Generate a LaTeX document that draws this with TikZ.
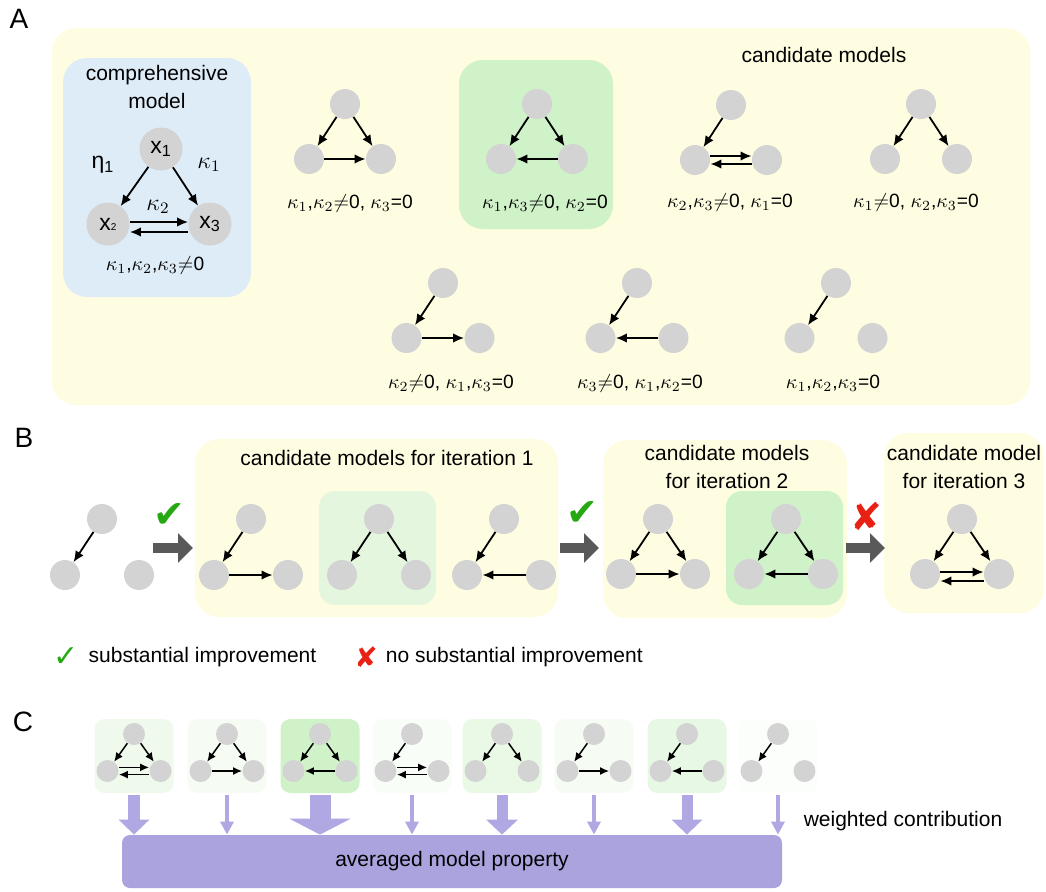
\documentclass[tikz,border=0pt]{standalone}
\usepackage{fontspec}
\setmainfont{Liberation Sans}
\newfontfamily\symfont{DejaVu Sans}
\usepackage{xcolor}
\usetikzlibrary{arrows.meta, positioning}
\definecolor{yellowbg}{RGB}{255,253,225}
\definecolor{bluebg}{RGB}{222,236,247}
\definecolor{greenbg}{RGB}{208,242,200}
\definecolor{palegreen}{RGB}{228,246,222}
\definecolor{nodegray}{RGB}{211,211,211}
\definecolor{arrowgray}{RGB}{89,89,89}
\definecolor{checkgreen}{RGB}{37,168,18}
\definecolor{crossred}{RGB}{232,33,20}
\definecolor{purplebar}{RGB}{170,163,222}
\definecolor{purplearr}{RGB}{176,168,226}
% three nodes of one model: style, name, top x, top y, half spread, drop
\newcommand{\trimodel}[6]{%
  \node[#1] (#2-t) at (#3,#4) {};
  \node[#1] (#2-l) at ({#3-#5},{#4+#6}) {};
  \node[#1] (#2-r) at ({#3+#5},{#4+#6}) {};}
\begin{document}
\begin{tikzpicture}[x=0.5pt, y=-0.5pt,
    font=\fontsize{10.5}{12.6}\selectfont,
    ndbig/.style={circle, fill=nodegray, minimum size=21.5pt, inner sep=0pt,
                  font=\fontsize{11.5}{11.5}\selectfont},
    nd/.style={circle, fill=nodegray, minimum size=15pt, inner sep=0pt},
    ndsmall/.style={circle, fill=nodegray, minimum size=11pt, inner sep=0pt},
    lk/.style={-{Latex[length=5.5pt,width=4.8pt]}, line width=0.9pt},
    lkc/.style={-{Latex[length=4.5pt,width=4pt]}, line width=0.75pt},
    cond/.style={font=\fontsize{9.6}{11}\selectfont},
    title/.style={align=center, font=\fontsize{10.5}{14}\selectfont},
    panel/.style={font=\fontsize{14}{14}\selectfont},
    tick/.style={font=\symfont\fontsize{19}{19}\selectfont},
    bigarr/.style={draw=arrowgray, line width=5pt, -{Triangle[length=7.5pt,width=14.5pt]}},
    wtarr/.style n args={3}{draw=purplearr, line width=#1,
                            -{Triangle[length=#3,width=#2]}, shorten <=1pt},
    cbox/.style={rounded corners=5pt, minimum width=39.5pt, minimum height=37pt, inner sep=0pt},
    bar/.style={fill=purplebar, rounded corners=4pt, minimum width=330pt, minimum height=26.5pt}
  ]
  \useasboundingbox (0,0) rectangle (1046,891);

  % ---------- A ----------
  \node[panel] (pa) at (19,19) {A};
  \fill[yellowbg, rounded corners=12pt] (52,28) rectangle (1030,405);
  \fill[bluebg, rounded corners=12pt] (63,58) rectangle (251,297);
  \fill[greenbg, rounded corners=12pt] (459,60) rectangle (613,229);
  \node[title] (tcomp) at (157,87) {comprehensive\\model};
  \node[title] (tcand) at (824,55) {candidate models};

  \node[ndbig] (x1) at (161,149) {x\textsubscript{1}};
  \node[ndbig] (x2) at (108,224) {x{\fontsize{5}{5}\selectfont 2}};
  \node[ndbig] (x3) at (210,224) {x\textsubscript{3}};
  \draw[lk] (x1) -- (x2);
  \draw[lk] (x1) -- (x3);
  \draw[lk] ([yshift=1pt]x2.east) -- ([yshift=1pt]x3.west);
  \draw[lk] ([yshift=-4pt]x3.west) -- ([yshift=-4pt]x2.east);
  \node[font=\fontsize{11.5}{11.5}\selectfont] (eta) at (103,165) {η\textsubscript{1}};
  \node[font=\fontsize{11.5}{11.5}\selectfont] (k1) at (209,165) {$\kappa_1$};
  \node[font=\fontsize{11.5}{11.5}\selectfont] (k2) at (158,207) {$\kappa_2$};
  \node[cond] (lcomp) at (155,265) {$\kappa_1$,$\kappa_2$,$\kappa_3${$\neq$}0};

  \trimodel{nd}{m1}{345}{104}{36}{55}
  \draw[lk] (m1-t) -- (m1-l);
  \draw[lk] (m1-t) -- (m1-r);
  \draw[lk] (m1-l) -- (m1-r);
  \node[cond] (l1) at (350,203) {$\kappa_1$,$\kappa_2${$\neq$}0, $\kappa_3$=0};

  \trimodel{nd}{m2}{537}{104}{36}{55}
  \draw[lk] (m2-t) -- (m2-l);
  \draw[lk] (m2-t) -- (m2-r);
  \draw[lk] (m2-r) -- (m2-l);
  \node[cond] (l2) at (545,203) {$\kappa_1$,$\kappa_3${$\neq$}0, $\kappa_2$=0};

  \trimodel{nd}{m3}{731}{105}{36}{55}
  \draw[lk] (m3-t) -- (m3-l);
  \draw[lk] ([yshift=2pt]m3-l.east) -- ([yshift=2pt]m3-r.west);
  \draw[lk] ([yshift=-2pt]m3-r.west) -- ([yshift=-2pt]m3-l.east);
  \node[cond] (l3) at (730,202) {$\kappa_2$,$\kappa_3${$\neq$}0, $\kappa_1$=0};

  \trimodel{nd}{m4}{921}{104}{36}{55}
  \draw[lk] (m4-t) -- (m4-l);
  \draw[lk] (m4-t) -- (m4-r);
  \node[cond] (l4) at (916,202) {$\kappa_1${$\neq$}0, $\kappa_2$,$\kappa_3$=0};

  \trimodel{nd}{m5}{443}{283}{36.5}{55}
  \draw[lk] (m5-t) -- (m5-l);
  \draw[lk] (m5-l) -- (m5-r);
  \node[cond] (l5) at (451,383) {$\kappa_2${$\neq$}0, $\kappa_1$,$\kappa_3$=0};

  \trimodel{nd}{m6}{637}{283}{36.5}{55}
  \draw[lk] (m6-t) -- (m6-l);
  \draw[lk] (m6-r) -- (m6-l);
  \node[cond] (l6) at (640,383) {$\kappa_3${$\neq$}0, $\kappa_1$,$\kappa_2$=0};

  \trimodel{nd}{m7}{836}{283}{36.5}{55}
  \draw[lk] (m7-t) -- (m7-l);
  \node[cond] (l7) at (833,383) {$\kappa_1$,$\kappa_2$,$\kappa_3$=0};

  % ---------- B ----------
  \node[panel] (pb) at (24,438) {B};
  \fill[yellowbg, rounded corners=12pt] (195,439) rectangle (558,617);
  \fill[yellowbg, rounded corners=12pt] (603,440) rectangle (847,618);
  \fill[yellowbg, rounded corners=12pt] (884,433) rectangle (1044,613);
  \fill[palegreen, rounded corners=8pt] (319,491) rectangle (436,605);
  \fill[greenbg, rounded corners=8pt] (726,491) rectangle (843,605);
  \node[title] (ti1) at (387,458) {candidate models for iteration 1};
  \node[title] (ti2) at (727,467) {candidate models\\for iteration 2};
  \node[title] (ti3) at (964,467) {candidate model\\for iteration 3};

  \trimodel{nd}{s0}{102}{519}{37}{56}
  \draw[lk] (s0-t) -- (s0-l);

  \trimodel{nd}{b1}{251}{519}{37}{56}
  \draw[lk] (b1-t) -- (b1-l);
  \draw[lk] (b1-l) -- (b1-r);
  \trimodel{nd}{b2}{379}{519}{37}{56}
  \draw[lk] (b2-t) -- (b2-l);
  \draw[lk] (b2-t) -- (b2-r);
  \trimodel{nd}{b3}{504}{519}{37}{56}
  \draw[lk] (b3-t) -- (b3-l);
  \draw[lk] (b3-r) -- (b3-l);

  \trimodel{nd}{b4}{658}{519}{37}{55}
  \draw[lk] (b4-t) -- (b4-l);
  \draw[lk] (b4-t) -- (b4-r);
  \draw[lk] (b4-l) -- (b4-r);
  \trimodel{nd}{b5}{786}{519}{37}{55}
  \draw[lk] (b5-t) -- (b5-l);
  \draw[lk] (b5-t) -- (b5-r);
  \draw[lk] (b5-r) -- (b5-l);

  \trimodel{nd}{b6}{962}{519}{37}{55}
  \draw[lk] (b6-t) -- (b6-l);
  \draw[lk] (b6-t) -- (b6-r);
  \draw[lk] ([yshift=1pt]b6-l.east) -- ([yshift=1pt]b6-r.west);
  \draw[lk] ([yshift=-3.5pt]b6-r.west) -- ([yshift=-3.5pt]b6-l.east);

  \coordinate (g1a) at (153,548);
  \coordinate (g1b) at (193,548);
  \coordinate (g2a) at (560,548);
  \coordinate (g2b) at (599,548);
  \coordinate (g3a) at (846,548);
  \coordinate (g3b) at (885,548);
  \draw[bigarr] (g1a) -- (g1b);
  \draw[bigarr] (g2a) -- (g2b);
  \draw[bigarr] (g3a) -- (g3b);
  \node[tick, text=checkgreen] (ck1) at (169,516) {✔};
  \node[tick, text=checkgreen] (ck2) at (582,514) {✔};
  \node[tick, text=crossred] (cr1) at (866,516) {✘};

  % legend
  \node[font=\symfont\fontsize{15}{15}\selectfont, text=checkgreen] (lgc) at (66,657) {✓};
  \node[right=-2pt of lgc] (lgct) {substantial improvement};
  \node[font=\symfont\fontsize{14}{14}\selectfont, text=crossred] (lgx) at (366,657) {✘};
  \node[right=-3pt of lgx] (lgxt) {no substantial improvement};

  % ---------- C ----------
  \node[panel] (pc) at (23,722) {C};
  \node[bar] (avg) at (452,861.5) {averaged model property};
  \node (wc) at (903,821) {weighted contribution};
  \foreach \i/\cx/\op in {1/134/35, 2/227/20, 3/320/100, 4/412/15,
                         5/502/45, 6/594/20, 7/687/50, 8/778/7} {
    \node[cbox, fill=greenbg!\op] (c\i) at (\cx,756) {};
    \trimodel{ndsmall}{c\i}{\cx}{734}{26.5}{37}
    \draw[lkc] (c\i-t) -- (c\i-l);
  }
  \foreach \i in {1,2,3,5}
    \draw[lkc] (c\i-t) -- (c\i-r);
  \foreach \i in {2,6}
    \draw[lkc] (c\i-l) -- (c\i-r);
  \foreach \i in {3,7}
    \draw[lkc] (c\i-r) -- (c\i-l);
  \foreach \i in {1,4} {
    \draw[lkc] ([yshift=1.8pt]c\i-l.east) -- ([yshift=1.8pt]c\i-r.west);
    \draw[lkc] ([yshift=-1.8pt]c\i-r.west) -- ([yshift=-1.8pt]c\i-l.east);
  }
  \foreach \i/\w/\hw/\hl in {1/6/15/7.5, 2/2/6.5/6.5, 3/10.5/30.5/8, 4/2/6.5/6.5,
                             5/5.5/15.5/7.5, 6/2/6.5/6.5, 7/5.5/15/7.5, 8/2/6.5/6.5}
    \draw[wtarr={\w pt}{\hw pt}{\hl pt}] (c\i.south) -- (c\i.south |- avg.north);
\end{tikzpicture}
\end{document}
